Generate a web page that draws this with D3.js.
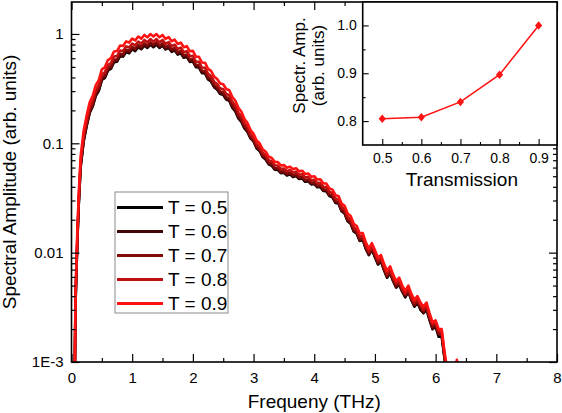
<!DOCTYPE html>
<html><head><meta charset="utf-8">
<script src="https://cdn.jsdelivr.net/npm/d3@7"></script>
<style>body{margin:0;background:#fff}svg{display:block}text{font-family:"Liberation Sans",Arial,sans-serif;fill:#000}</style>
</head><body>
<script>
// ---------- data ----------
const freq = [0.04,0.055,0.065,0.08,0.1,0.12,0.15,0.2,0.25,
0.30,0.35,0.40,0.45,0.50,0.55,0.60,0.65,0.70,0.75,
0.80,0.85,0.90,0.95,1.00,1.05,1.10,1.15,1.20,1.25,
1.30,1.35,1.40,1.45,1.50,1.55,1.60,1.65,1.70,1.75,
1.80,1.85,1.90,1.95,2.00,2.05,2.10,2.15,2.20,2.25,
2.30,2.35,2.40,2.45,2.50,2.55,2.60,2.65,2.70,2.75,
2.80,2.85,2.90,2.95,3.00,3.05,3.10,3.15,3.20,3.25,
3.30,3.35,3.40,3.45,3.50,3.55,3.60,3.65,3.70,3.75,
3.80,3.85,3.90,3.95,4.00,4.05,4.10,4.15,4.20,4.25,
4.30,4.35,4.40,4.45,4.50,4.55,4.60,4.65,4.70,4.75,
4.80,4.85,4.90,4.95,5.00,5.05,5.10,5.15,5.20,5.25,
5.30,5.35,5.40,5.45,5.50,5.55,5.60,5.65,5.70,5.75,
5.80,5.85,5.90,5.95,6.00,6.05,6.10,
6.15,6.20,6.25,6.30,6.35,6.40];

const ampT05 = [0.0004,0.0008,0.0032,0.0064,0.0144,0.028,0.06,0.104,0.144,
0.190,0.218,0.272,0.302,0.379,0.396,0.462,0.481,0.552,0.558,
0.626,0.621,0.684,0.667,0.725,0.698,0.758,0.726,0.783,0.745,
0.799,0.757,0.799,0.745,0.783,0.722,0.750,0.686,0.709,0.648,
0.667,0.606,0.618,0.555,0.560,0.497,0.494,0.438,0.437,0.384,
0.367,0.326,0.310,0.282,0.278,0.251,0.245,0.212,0.196,0.169,
0.157,0.137,0.127,0.111,0.104,0.0901,0.085,0.0750,0.0711,0.0642,
0.0624,0.0575,0.0572,0.0533,0.0537,0.0508,0.0520,0.0491,0.0503,0.0471,
0.0477,0.0445,0.0451,0.0421,0.0425,0.0396,0.0399,0.0366,0.0364,0.0329,
0.0320,0.0285,0.0281,0.0239,0.0228,0.0194,0.0184,0.0156,0.0149,0.0128,
0.0131,0.0108,0.0095,0.0106,0.0091,0.0078,0.0083,0.0069,0.0059,0.0065,
0.0055,0.0048,0.0051,0.0044,0.0039,0.0044,0.0037,0.0032,0.0035,0.0030,
0.0028,0.0030,0.0024,0.0020,0.0021,0.0017,0.0017,
0.00104,0.0007,0.00044,0.00052,0.00091,0.00061];

const ampT06 = [0.0004,0.00081,0.0032,0.0065,0.0146,0.0284,0.0608,0.105,0.146,
0.192,0.220,0.275,0.306,0.384,0.401,0.467,0.487,0.559,0.565,
0.634,0.629,0.693,0.676,0.734,0.707,0.768,0.735,0.793,0.754,
0.809,0.766,0.809,0.754,0.793,0.731,0.759,0.695,0.718,0.656,
0.676,0.613,0.626,0.562,0.567,0.503,0.501,0.444,0.442,0.389,
0.372,0.330,0.314,0.286,0.281,0.254,0.248,0.215,0.198,0.171,
0.159,0.139,0.129,0.112,0.105,0.0912,0.086,0.0759,0.0719,0.0649,
0.0631,0.0581,0.0579,0.0539,0.0544,0.0514,0.0526,0.0497,0.0509,0.0476,
0.0482,0.0451,0.0456,0.0426,0.0430,0.0401,0.0403,0.0371,0.0368,0.0333,
0.0324,0.0288,0.0284,0.0242,0.0230,0.0196,0.0186,0.0158,0.0151,0.0129,
0.0133,0.0109,0.0096,0.0107,0.0092,0.0079,0.0084,0.0070,0.0060,0.0066,
0.0055,0.0048,0.0052,0.0044,0.0040,0.0044,0.0037,0.0033,0.0035,0.0031,
0.0028,0.0031,0.0025,0.0020,0.0021,0.0018,0.0018,
0.00106,0.0007,0.00044,0.00053,0.00092,0.00062];

const ampT07 = [0.00042,0.00084,0.0034,0.0067,0.0151,0.0294,0.063,0.109,0.151,
0.199,0.228,0.286,0.318,0.398,0.416,0.485,0.505,0.580,0.586,
0.658,0.652,0.718,0.701,0.761,0.733,0.796,0.762,0.822,0.782,
0.839,0.795,0.839,0.782,0.822,0.758,0.787,0.721,0.744,0.680,
0.701,0.636,0.649,0.583,0.588,0.522,0.519,0.460,0.459,0.403,
0.386,0.342,0.326,0.297,0.291,0.264,0.257,0.223,0.206,0.177,
0.165,0.144,0.132,0.115,0.107,0.0933,0.088,0.0776,0.0736,0.0664,
0.0646,0.0595,0.0592,0.0552,0.0556,0.0526,0.0539,0.0509,0.0521,0.0488,
0.0494,0.0461,0.0466,0.0436,0.0440,0.0410,0.0413,0.0379,0.0377,0.0341,
0.0332,0.0295,0.0290,0.0247,0.0236,0.0201,0.0190,0.0162,0.0154,0.0132,
0.0136,0.0112,0.0098,0.0110,0.0095,0.0081,0.0086,0.0071,0.0061,0.0068,
0.0057,0.0050,0.0053,0.0045,0.0041,0.0045,0.0038,0.0033,0.0036,0.0032,
0.0029,0.0032,0.0025,0.0021,0.0022,0.0018,0.0018,
0.00108,0.00072,0.00045,0.00054,0.00094,0.00063];

const ampT08 = [0.00045,0.0009,0.0036,0.0072,0.0162,0.0315,0.0675,0.117,0.162,
0.213,0.245,0.306,0.340,0.427,0.446,0.519,0.541,0.621,0.628,
0.705,0.698,0.770,0.751,0.815,0.786,0.853,0.816,0.881,0.838,
0.899,0.851,0.899,0.838,0.881,0.812,0.843,0.772,0.797,0.729,
0.751,0.681,0.696,0.625,0.630,0.559,0.556,0.493,0.491,0.432,
0.413,0.366,0.349,0.318,0.312,0.283,0.275,0.239,0.221,0.190,
0.177,0.152,0.141,0.121,0.113,0.0986,0.093,0.0820,0.0777,0.0702,
0.0683,0.0629,0.0626,0.0583,0.0588,0.0556,0.0569,0.0538,0.0551,0.0515,
0.0522,0.0487,0.0493,0.0460,0.0465,0.0433,0.0436,0.0401,0.0398,0.0360,
0.0351,0.0312,0.0307,0.0261,0.0249,0.0212,0.0201,0.0171,0.0163,0.0140,
0.0142,0.0117,0.0102,0.0115,0.0099,0.0085,0.0089,0.0074,0.0064,0.0071,
0.0059,0.0052,0.0055,0.0047,0.0042,0.0047,0.0039,0.0035,0.0038,0.0033,
0.0030,0.0033,0.0026,0.0022,0.0023,0.0019,0.0019,
0.00113,0.00075,0.00047,0.00056,0.00098,0.00066];

const ampT09 = [0.0005,0.001,0.004,0.008,0.018,0.035,0.075,0.13,0.18,
0.237,0.272,0.340,0.378,0.474,0.495,0.577,0.601,0.690,0.698,
0.783,0.776,0.855,0.834,0.906,0.873,0.948,0.907,0.979,0.931,
0.999,0.946,0.999,0.931,0.979,0.902,0.937,0.858,0.886,0.810,
0.834,0.757,0.773,0.694,0.700,0.621,0.618,0.548,0.546,0.480,
0.459,0.407,0.388,0.353,0.347,0.314,0.306,0.265,0.245,0.211,
0.194,0.167,0.153,0.132,0.122,0.106,0.100,0.0882,0.0836,0.0755,
0.0734,0.0676,0.0673,0.0627,0.0632,0.0598,0.0612,0.0578,0.0592,0.0554,
0.0561,0.0524,0.0530,0.0495,0.0500,0.0466,0.0469,0.0431,0.0428,0.0387,
0.0377,0.0335,0.0330,0.0281,0.0268,0.0228,0.0216,0.0184,0.0175,0.0150,
0.0151,0.0124,0.0109,0.0122,0.0105,0.0090,0.0095,0.0079,0.0068,0.0075,
0.0063,0.0055,0.0059,0.0050,0.0045,0.0050,0.0042,0.0037,0.0040,0.0035,
0.0032,0.0035,0.0028,0.0023,0.0024,0.0020,0.0020,
0.0012,0.0008,0.0005,0.0006,0.00105,0.0007];

const seriesLabels = ["T = 0.5","T = 0.6","T = 0.7","T = 0.8","T = 0.9"];
const seriesValues = [ampT05, ampT06, ampT07, ampT08, ampT09];
const seriesColors = ["#000000","#420606","#7e0a0a","#bd1010","#ff1212"];

const xTickValues = [0,1,2,3,4,5,6,7,8];
const xTickLabels = ["0","1","2","3","4","5","6","7","8"];
const yTickValues = [0.001,0.01,0.1,1];
const yTickLabels = ["1E-3","0.01","0.1","1"];

const insetT = [0.5,0.6,0.7,0.8,0.9];
const insetAmp = [0.805,0.808,0.840,0.897,1.000];
const insetXTicks = [0.5,0.6,0.7,0.8,0.9];
const insetXLabels = ["0.5","0.6","0.7","0.8","0.9"];
const insetYTicks = [0.8,0.9,1.0];
const insetYLabels = ["0.8","0.9","1.0"];

// ---------- drawing ----------
const W = 562, H = 413;
const svg = d3.select("body").append("svg").attr("width", W).attr("height", H);
const L = 71.5, R = 557, T = 2, B = 362;
const x = d3.scaleLinear().domain([0, 8]).range([L, R]);
const y = d3.scaleLog().domain([0.001, 1.96]).range([B, T]);

svg.append("clipPath").attr("id","clip").append("rect")
  .attr("x", L).attr("y", T).attr("width", R - L).attr("height", B - T);

const line = d3.line().x(d => x(d[0])).y(d => y(d[1]));
const gLines = svg.append("g").attr("clip-path","url(#clip)");
seriesValues.forEach((vals, i) => {
  const pts = freq.map((f, k) => [f, vals[k]]);
  gLines.append("path").datum(pts).attr("d", line)
    .attr("fill","none").attr("stroke", seriesColors[i])
    .attr("stroke-width", 2.6).attr("stroke-linejoin","round");
});

// axes
const xMinor = d3.range(0.5, 8, 1);
const yMinor = [];
[0.001,0.01,0.1].forEach(d => { for (let k = 2; k <= 9; k++) yMinor.push(d * k); });

function styleAxis(g){ g.select(".domain").remove(); g.selectAll("line").attr("stroke","#000").attr("stroke-width",1.2); g.selectAll("text").style("font-size","15px").style("font-family","'Liberation Sans',Arial,sans-serif"); }

svg.append("g").attr("transform",`translate(0,${B})`)
  .call(d3.axisBottom(x).tickValues(xTickValues).tickFormat((d,i)=>xTickLabels[i]).tickSize(-8).tickPadding(10)).call(styleAxis);
svg.append("g").attr("transform",`translate(0,${B})`)
  .call(d3.axisBottom(x).tickValues(xMinor).tickFormat("").tickSize(-4)).call(styleAxis);
svg.append("g").attr("transform",`translate(0,${T})`)
  .call(d3.axisTop(x).tickValues(xTickValues).tickFormat("").tickSize(-8)).call(styleAxis);
svg.append("g").attr("transform",`translate(0,${T})`)
  .call(d3.axisTop(x).tickValues(xMinor).tickFormat("").tickSize(-4)).call(styleAxis);

svg.append("g").attr("transform",`translate(${L},0)`)
  .call(d3.axisLeft(y).tickValues(yTickValues).tickFormat((d,i)=>yTickLabels[i]).tickSize(-8).tickPadding(8)).call(styleAxis);
svg.append("g").attr("transform",`translate(${L},0)`)
  .call(d3.axisLeft(y).tickValues(yMinor).tickFormat("").tickSize(-4)).call(styleAxis);
svg.append("g").attr("transform",`translate(${R},0)`)
  .call(d3.axisRight(y).tickValues(yTickValues).tickFormat("").tickSize(-8)).call(styleAxis);
svg.append("g").attr("transform",`translate(${R},0)`)
  .call(d3.axisRight(y).tickValues(yMinor).tickFormat("").tickSize(-4)).call(styleAxis);

svg.append("rect").attr("x", L).attr("y", T).attr("width", R - L).attr("height", B - T)
  .attr("fill","none").attr("stroke","#000").attr("stroke-width",1.6);

svg.append("text").attr("x", (L + R) / 2).attr("y", 408).attr("text-anchor","middle")
  .style("font-size","19px").text("Frequeny (THz)");
svg.append("text").attr("transform",`translate(16,${(T + B) / 2}) rotate(-90)`).attr("text-anchor","middle")
  .style("font-size","19px").text("Spectral Amplitude (arb. units)");

// legend
const lg = svg.append("g");
lg.append("rect").attr("x",115).attr("y",192).attr("width",113).attr("height",121)
  .attr("fill","#fff").attr("stroke","#8a8a8a").attr("stroke-width",1);
seriesLabels.forEach((lab, i) => {
  const yy = 207.5 + i * 24;
  lg.append("line").attr("x1",117).attr("x2",163).attr("y1",yy).attr("y2",yy)
    .attr("stroke", seriesColors[i]).attr("stroke-width",3);
  lg.append("text").attr("x",168).attr("y",yy).attr("dy","0.36em")
    .style("font-size","19px").text(lab);
});

// inset
const iL = 362.7, iR = 557, iT = 2, iB = 145;
const ix = d3.scaleLinear().domain([0.45, 0.947]).range([iL, iR]);
const iy = d3.scaleLinear().domain([0.75, 1.049]).range([iB, iT]);
svg.append("rect").attr("x", iL).attr("y", iT).attr("width", iR - iL).attr("height", iB - iT)
  .attr("fill","#fff").attr("stroke","#000").attr("stroke-width",1.6);

function styleInset(g){ g.select(".domain").remove(); g.selectAll("line").attr("stroke","#000").attr("stroke-width",1.1); g.selectAll("text").style("font-size","14px").style("font-family","'Liberation Sans',Arial,sans-serif"); }
svg.append("g").attr("transform",`translate(0,${iB})`)
  .call(d3.axisBottom(ix).tickValues(insetXTicks).tickFormat((d,i)=>insetXLabels[i]).tickSize(-6).tickPadding(8)).call(styleInset);
svg.append("g").attr("transform",`translate(0,${iB})`)
  .call(d3.axisBottom(ix).tickValues([0.55,0.65,0.75,0.85]).tickFormat("").tickSize(-3)).call(styleInset);
svg.append("g").attr("transform",`translate(${iL},0)`)
  .call(d3.axisLeft(iy).tickValues(insetYTicks).tickFormat((d,i)=>insetYLabels[i]).tickSize(-6).tickPadding(6)).call(styleInset);
svg.append("g").attr("transform",`translate(${iL},0)`)
  .call(d3.axisLeft(iy).tickValues([0.85,0.95]).tickFormat("").tickSize(-3)).call(styleInset);

const iline = d3.line().x((d,i) => ix(insetT[i])).y(d => iy(d));
svg.append("path").datum(insetAmp).attr("d", iline).attr("fill","none")
  .attr("stroke","#ff1212").attr("stroke-width",1.5);
svg.append("g").selectAll("path").data(insetAmp).join("path")
  .attr("transform",(d,i)=>`translate(${ix(insetT[i])},${iy(d)})`)
  .attr("d","M0,-4.2L3.6,0L0,4.2L-3.6,0Z").attr("fill","#ff1212");

svg.append("text").attr("x", (iL + iR) / 2 + 2).attr("y", 186).attr("text-anchor","middle")
  .style("font-size","19px").text("Transmission");
svg.append("text").attr("transform",`translate(305,${(iT + iB) / 2 - 8}) rotate(-90)`).attr("text-anchor","middle")
  .style("font-size","17px").text("Spectr. Amp.");
svg.append("text").attr("transform",`translate(324,${(iT + iB) / 2 - 8}) rotate(-90)`).attr("text-anchor","middle")
  .style("font-size","17px").text("(arb. units)");
</script>
</body></html>
